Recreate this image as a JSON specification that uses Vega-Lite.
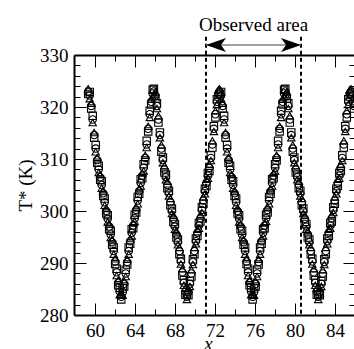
{
"$schema": "https://vega.github.io/schema/vega-lite/v6.json",
"width": 281, "height": 260,
"autosize": {"type": "none"},
"padding": {"left": 74, "top": 55, "right": 0, "bottom": 34},
"background": "white",
"config": {"view": {"stroke": null}},
"datasets": {
"pts": [
{"x":59.32,"c":323.0,"s":322.5,"t":323.5},{"x":59.47,"c":322.2,"s":322.9,"t":321.6},{"x":59.62,"c":320.2,"s":319.7,"t":320.7},{"x":59.77,"c":317.6,"s":318.3,"t":317.0},{"x":59.92,"c":314.6,"s":314.1,"t":315.1},{"x":60.07,"c":312.0,"s":312.7,"t":311.4},{"x":60.22,"c":309.8,"s":309.3,"t":310.3},{"x":60.37,"c":308.0,"s":308.7,"t":307.4},{"x":60.52,"c":306.5,"s":306.0,"t":307.0},{"x":60.67,"c":305.0,"s":305.7,"t":304.4},{"x":60.82,"c":303.4,"s":302.9,"t":303.9},{"x":60.97,"c":301.7,"s":302.4,"t":301.1},{"x":61.12,"c":300.0,"s":299.5,"t":300.5},{"x":61.27,"c":298.5,"s":299.2,"t":297.9},{"x":61.42,"c":297.0,"s":296.5,"t":297.5},{"x":61.57,"c":295.5,"s":296.2,"t":294.9},{"x":61.72,"c":294.0,"s":293.5,"t":294.5},{"x":61.87,"c":292.3,"s":293.0,"t":291.7},{"x":62.02,"c":290.3,"s":289.8,"t":290.8},{"x":62.17,"c":288.2,"s":288.9,"t":287.6},{"x":62.32,"c":286.2,"s":285.7,"t":286.7},{"x":62.47,"c":284.5,"s":285.2,"t":283.9},{"x":62.62,"c":283.5,"s":283.0,"t":284.0},{"x":62.77,"c":284.4,"s":285.1,"t":283.8},{"x":62.92,"c":286.0,"s":285.5,"t":286.5},{"x":63.07,"c":288.0,"s":288.7,"t":287.4},{"x":63.22,"c":290.2,"s":289.7,"t":290.7},{"x":63.37,"c":292.3,"s":293.0,"t":291.7},{"x":63.52,"c":294.2,"s":293.7,"t":294.7},{"x":63.67,"c":295.8,"s":296.5,"t":295.2},{"x":63.82,"c":297.2,"s":296.7,"t":297.7},{"x":63.97,"c":298.6,"s":299.3,"t":298.0},{"x":64.12,"c":300.2,"s":299.7,"t":300.7},{"x":64.27,"c":302.0,"s":302.7,"t":301.4},{"x":64.42,"c":303.8,"s":303.3,"t":304.3},{"x":64.57,"c":305.4,"s":306.1,"t":304.8},{"x":64.72,"c":306.8,"s":306.3,"t":307.3},{"x":64.87,"c":308.3,"s":309.0,"t":307.7},{"x":65.02,"c":310.2,"s":309.7,"t":310.7},{"x":65.17,"c":312.8,"s":313.5,"t":312.2},{"x":65.32,"c":315.8,"s":315.3,"t":316.3},{"x":65.47,"c":318.6,"s":319.3,"t":318.0},{"x":65.62,"c":321.0,"s":320.5,"t":321.5},{"x":65.77,"c":322.6,"s":323.3,"t":322.0},
{"x":65.89,"c":323.0,"s":323.5,"t":322.5},{"x":66.04,"c":322.2,"s":321.6,"t":322.9},{"x":66.19,"c":320.2,"s":320.7,"t":319.7},{"x":66.34,"c":317.6,"s":317.0,"t":318.3},{"x":66.49,"c":314.6,"s":315.1,"t":314.1},{"x":66.64,"c":312.0,"s":311.4,"t":312.7},{"x":66.79,"c":309.8,"s":310.3,"t":309.3},{"x":66.94,"c":308.0,"s":307.4,"t":308.7},{"x":67.09,"c":306.5,"s":307.0,"t":306.0},{"x":67.24,"c":305.0,"s":304.4,"t":305.7},{"x":67.39,"c":303.4,"s":303.9,"t":302.9},{"x":67.54,"c":301.7,"s":301.1,"t":302.4},{"x":67.69,"c":300.0,"s":300.5,"t":299.5},{"x":67.84,"c":298.5,"s":297.9,"t":299.2},{"x":67.99,"c":297.0,"s":297.5,"t":296.5},{"x":68.14,"c":295.5,"s":294.9,"t":296.2},{"x":68.29,"c":294.0,"s":294.5,"t":293.5},{"x":68.44,"c":292.3,"s":291.7,"t":293.0},{"x":68.59,"c":290.3,"s":290.8,"t":289.8},{"x":68.74,"c":288.2,"s":287.6,"t":288.9},{"x":68.89,"c":286.2,"s":286.7,"t":285.7},{"x":69.04,"c":284.5,"s":283.9,"t":285.2},{"x":69.19,"c":283.5,"s":284.0,"t":283.0},{"x":69.34,"c":284.4,"s":283.8,"t":285.1},{"x":69.49,"c":286.0,"s":286.5,"t":285.5},{"x":69.64,"c":288.0,"s":287.4,"t":288.7},{"x":69.79,"c":290.2,"s":290.7,"t":289.7},{"x":69.94,"c":292.3,"s":291.7,"t":293.0},{"x":70.09,"c":294.2,"s":294.7,"t":293.7},{"x":70.24,"c":295.8,"s":295.2,"t":296.5},{"x":70.39,"c":297.2,"s":297.7,"t":296.7},{"x":70.54,"c":298.6,"s":298.0,"t":299.3},{"x":70.69,"c":300.2,"s":300.7,"t":299.7},{"x":70.84,"c":302.0,"s":301.4,"t":302.7},{"x":70.99,"c":303.8,"s":304.3,"t":303.3},{"x":71.14,"c":305.4,"s":304.8,"t":306.1},{"x":71.29,"c":306.8,"s":307.3,"t":306.3},{"x":71.44,"c":308.3,"s":307.7,"t":309.0},{"x":71.59,"c":310.2,"s":310.7,"t":309.7},{"x":71.74,"c":312.8,"s":312.2,"t":313.5},{"x":71.89,"c":315.8,"s":316.3,"t":315.3},{"x":72.04,"c":318.6,"s":318.0,"t":319.3},{"x":72.19,"c":321.0,"s":321.5,"t":320.5},{"x":72.34,"c":322.6,"s":322.0,"t":323.3},
{"x":72.46,"c":323.0,"s":322.5,"t":323.5},{"x":72.61,"c":322.2,"s":322.9,"t":321.6},{"x":72.76,"c":320.2,"s":319.7,"t":320.7},{"x":72.91,"c":317.6,"s":318.3,"t":317.0},{"x":73.06,"c":314.6,"s":314.1,"t":315.1},{"x":73.21,"c":312.0,"s":312.7,"t":311.4},{"x":73.36,"c":309.8,"s":309.3,"t":310.3},{"x":73.51,"c":308.0,"s":308.7,"t":307.4},{"x":73.66,"c":306.5,"s":306.0,"t":307.0},{"x":73.81,"c":305.0,"s":305.7,"t":304.4},{"x":73.96,"c":303.4,"s":302.9,"t":303.9},{"x":74.11,"c":301.7,"s":302.4,"t":301.1},{"x":74.26,"c":300.0,"s":299.5,"t":300.5},{"x":74.41,"c":298.5,"s":299.2,"t":297.9},{"x":74.56,"c":297.0,"s":296.5,"t":297.5},{"x":74.71,"c":295.5,"s":296.2,"t":294.9},{"x":74.86,"c":294.0,"s":293.5,"t":294.5},{"x":75.01,"c":292.3,"s":293.0,"t":291.7},{"x":75.16,"c":290.3,"s":289.8,"t":290.8},{"x":75.31,"c":288.2,"s":288.9,"t":287.6},{"x":75.46,"c":286.2,"s":285.7,"t":286.7},{"x":75.61,"c":284.5,"s":285.2,"t":283.9},{"x":75.76,"c":283.5,"s":283.0,"t":284.0},{"x":75.91,"c":284.4,"s":285.1,"t":283.8},{"x":76.06,"c":286.0,"s":285.5,"t":286.5},{"x":76.21,"c":288.0,"s":288.7,"t":287.4},{"x":76.36,"c":290.2,"s":289.7,"t":290.7},{"x":76.51,"c":292.3,"s":293.0,"t":291.7},{"x":76.66,"c":294.2,"s":293.7,"t":294.7},{"x":76.81,"c":295.8,"s":296.5,"t":295.2},{"x":76.96,"c":297.2,"s":296.7,"t":297.7},{"x":77.11,"c":298.6,"s":299.3,"t":298.0},{"x":77.26,"c":300.2,"s":299.7,"t":300.7},{"x":77.41,"c":302.0,"s":302.7,"t":301.4},{"x":77.56,"c":303.8,"s":303.3,"t":304.3},{"x":77.71,"c":305.4,"s":306.1,"t":304.8},{"x":77.86,"c":306.8,"s":306.3,"t":307.3},{"x":78.01,"c":308.3,"s":309.0,"t":307.7},{"x":78.16,"c":310.2,"s":309.7,"t":310.7},{"x":78.31,"c":312.8,"s":313.5,"t":312.2},{"x":78.46,"c":315.8,"s":315.3,"t":316.3},{"x":78.61,"c":318.6,"s":319.3,"t":318.0},{"x":78.76,"c":321.0,"s":320.5,"t":321.5},{"x":78.91,"c":322.6,"s":323.3,"t":322.0},
{"x":79.03,"c":323.0,"s":323.5,"t":322.5},{"x":79.18,"c":322.2,"s":321.6,"t":322.9},{"x":79.33,"c":320.2,"s":320.7,"t":319.7},{"x":79.48,"c":317.6,"s":317.0,"t":318.3},{"x":79.63,"c":314.6,"s":315.1,"t":314.1},{"x":79.78,"c":312.0,"s":311.4,"t":312.7},{"x":79.93,"c":309.8,"s":310.3,"t":309.3},{"x":80.08,"c":308.0,"s":307.4,"t":308.7},{"x":80.23,"c":306.5,"s":307.0,"t":306.0},{"x":80.38,"c":305.0,"s":304.4,"t":305.7},{"x":80.53,"c":303.4,"s":303.9,"t":302.9},{"x":80.68,"c":301.7,"s":301.1,"t":302.4},{"x":80.83,"c":300.0,"s":300.5,"t":299.5},{"x":80.98,"c":298.5,"s":297.9,"t":299.2},{"x":81.13,"c":297.0,"s":297.5,"t":296.5},{"x":81.28,"c":295.5,"s":294.9,"t":296.2},{"x":81.43,"c":294.0,"s":294.5,"t":293.5},{"x":81.58,"c":292.3,"s":291.7,"t":293.0},{"x":81.73,"c":290.3,"s":290.8,"t":289.8},{"x":81.88,"c":288.2,"s":287.6,"t":288.9},{"x":82.03,"c":286.2,"s":286.7,"t":285.7},{"x":82.18,"c":284.5,"s":283.9,"t":285.2},{"x":82.33,"c":283.5,"s":284.0,"t":283.0},{"x":82.48,"c":284.4,"s":283.8,"t":285.1},{"x":82.63,"c":286.0,"s":286.5,"t":285.5},{"x":82.78,"c":288.0,"s":287.4,"t":288.7},{"x":82.93,"c":290.2,"s":290.7,"t":289.7},{"x":83.08,"c":292.3,"s":291.7,"t":293.0},{"x":83.23,"c":294.2,"s":294.7,"t":293.7},{"x":83.38,"c":295.8,"s":295.2,"t":296.5},{"x":83.53,"c":297.2,"s":297.7,"t":296.7},{"x":83.68,"c":298.6,"s":298.0,"t":299.3},{"x":83.83,"c":300.2,"s":300.7,"t":299.7},{"x":83.98,"c":302.0,"s":301.4,"t":302.7},{"x":84.13,"c":303.8,"s":304.3,"t":303.3},{"x":84.28,"c":305.4,"s":304.8,"t":306.1},{"x":84.43,"c":306.8,"s":307.3,"t":306.3},{"x":84.58,"c":308.3,"s":307.7,"t":309.0},{"x":84.73,"c":310.2,"s":310.7,"t":309.7},{"x":84.88,"c":312.8,"s":312.2,"t":313.5},{"x":85.03,"c":315.8,"s":316.3,"t":315.3},{"x":85.18,"c":318.6,"s":318.0,"t":319.3},{"x":85.33,"c":321.0,"s":321.5,"t":320.5},{"x":85.48,"c":322.6,"s":322.0,"t":323.3},
{"x":85.60,"c":323.0,"s":322.5,"t":323.5},{"x":85.75,"c":322.2,"s":322.9,"t":321.6},{"x":85.90,"c":320.2,"s":319.7,"t":320.7}
],
"lines": [{"xl": 71.1, "dir": "L"}, {"xl": 80.6, "dir": "R"}]
},
"layer": [
{
"data": {"name": "pts"},
"transform": [{"fold": ["c", "s", "t"], "as": ["series", "T"]}],
"mark": {"type": "point", "filled": false, "stroke": "black", "strokeWidth": 1.1, "size": 55, "opacity": 1},
"encoding": {
"x": {"field": "x", "type": "quantitative", "scale": {"domain": [57.9, 86], "nice": false, "zero": false},
"axis": {"orient": "bottom", "values": [60,62,64,66,68,70,72,74,76,78,80,82,84], "labelExpr": "datum.value % 4 === 0 ? datum.label : ''",
"tickSize": {"condition": {"test": "datum.value % 4 === 0", "value": -12}, "value": -6},
"domainWidth": 2, "domainColor": "black", "tickColor": "black", "tickWidth": 1,
"labelFont": "Liberation Serif", "labelFontSize": 19, "labelColor": "black", "labelPadding": 18, "labelFlush": false, "labelOverlap": false,
"title": "x", "titleFont": "Liberation Serif", "titleFontSize": 19, "titleFontStyle": "italic", "titleFontWeight": "normal", "titleColor": "black", "titlePadding": -12, "titleX": 134, "grid": false}},
"y": {"field": "T", "type": "quantitative", "scale": {"domain": [280, 330], "nice": false, "zero": false},
"axis": {"orient": "left", "values": [280,282,284,286,288,290,292,294,296,298,300,302,304,306,308,310,312,314,316,318,320,322,324,326,328,330], "labelExpr": "datum.value % 10 === 0 ? datum.label : ''",
"tickSize": {"condition": {"test": "datum.value % 10 === 0", "value": -12}, "value": -6},
"domainWidth": 2, "domainColor": "black", "tickColor": "black", "tickWidth": 1,
"labelFont": "Liberation Serif", "labelFontSize": 19, "labelColor": "black", "labelPadding": 18, "labelOverlap": false,
"title": "T* (K)", "titleFont": "Liberation Serif", "titleFontSize": 19, "titleFontWeight": "normal", "titleColor": "black", "titlePadding": 4, "grid": false}},
"shape": {"field": "series", "type": "nominal", "scale": {"domain": ["c", "s", "t"], "range": ["circle", "square", "triangle-up"]}, "legend": null}
}
},
{
"data": {"name": "lines"},
"mark": {"type": "rule", "strokeDash": [4, 3], "strokeWidth": 2, "color": "black"},
"encoding": {
"x": {"field": "xl", "type": "quantitative", "scale": {"domain": [57.9, 86], "nice": false, "zero": false},
"axis": {"orient": "top", "values": [60,62,64,66,68,70,72,74,76,78,80,82,84], "labels": false,
"tickSize": {"condition": {"test": "datum.value % 4 === 0", "value": -12}, "value": -6},
"domainWidth": 2, "domainColor": "black", "tickColor": "black", "tickWidth": 1, "title": null, "grid": false}},
"y": {"datum": 333.5, "type": "quantitative", "scale": {"domain": [280, 330], "nice": false, "zero": false},
"axis": {"orient": "right", "values": [280,282,284,286,288,290,292,294,296,298,300,302,304,306,308,310,312,314,316,318,320,322,324,326,328,330], "labels": false,
"tickSize": {"condition": {"test": "datum.value % 10 === 0", "value": -12}, "value": -6},
"domainWidth": 2, "domainColor": "black", "tickColor": "black", "tickWidth": 1, "title": null, "grid": false}},
"y2": {"datum": 280}
}
},
{
"data": {"values": [{"a": 71.1, "b": 80.6}]},
"mark": {"type": "rule", "color": "#7f7f7f", "strokeWidth": 1.5},
"encoding": {
"x": {"field": "a", "type": "quantitative", "scale": {"domain": [57.9, 86], "nice": false, "zero": false}, "axis": null},
"x2": {"field": "b"},
"y": {"datum": 331.9, "type": "quantitative", "scale": {"domain": [280, 330], "nice": false, "zero": false}, "axis": null}
}
},
{
"data": {"name": "lines"},
"mark": {"type": "point", "filled": true, "color": "black", "size": 400, "opacity": 1},
"encoding": {
"x": {"field": "xl", "type": "quantitative", "scale": {"domain": [57.9, 86], "nice": false, "zero": false}, "axis": null},
"y": {"datum": 331.9, "type": "quantitative", "scale": {"domain": [280, 330], "nice": false, "zero": false}, "axis": null},
"shape": {"field": "dir", "type": "nominal", "scale": {"domain": ["L", "R"], "range": ["M0,0L2,-0.7L1.5,0L2,0.7Z", "M0,0L-2,-0.7L-1.5,0L-2,0.7Z"]}, "legend": null}
}
},
{
"data": {"values": [{"label": "Observed area", "xm": 75.85}]},
"mark": {"type": "text", "font": "Liberation Serif", "fontSize": 19, "color": "black", "baseline": "alphabetic", "align": "center"},
"encoding": {
"x": {"field": "xm", "type": "quantitative", "scale": {"domain": [57.9, 86], "nice": false, "zero": false}, "axis": null},
"y": {"datum": 334.7, "type": "quantitative", "scale": {"domain": [280, 330], "nice": false, "zero": false}, "axis": null},
"text": {"field": "label"}
}
}
],
"resolve": {"axis": {"x": "independent", "y": "independent"}, "scale": {"shape": "independent"}}
}
